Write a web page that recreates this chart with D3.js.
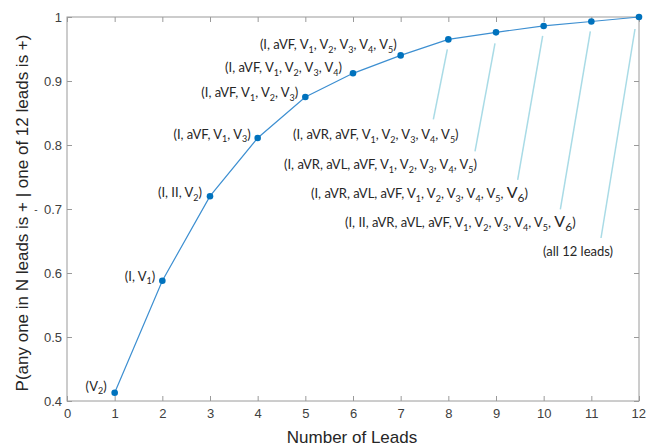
<!DOCTYPE html>
<html>
<head>
<meta charset="utf-8">
<script src="https://cdn.jsdelivr.net/npm/d3@7"></script>
<style>
  html, body { margin: 0; padding: 0; background: #fff; }
  svg { display: block; }
  .tick-label { font-family: "Liberation Sans", Arial, sans-serif; font-size: 13px; fill: #404040; }
  .axis-title { font-family: "Liberation Sans", Arial, sans-serif; font-size: 17px; fill: #262626; }
  .ann { font-family: Lato, "Open Sans", sans-serif; font-size: 13px; fill: #262626; }
</style>
</head>
<body>
<div id="chart"></div>
<script>
// number of leads -> probability
const leadCounts = [1, 2, 3, 4, 5, 6, 7, 8, 9, 10, 11, 12];
const probValues = [0.413, 0.588, 0.72, 0.811, 0.875, 0.912, 0.94, 0.965, 0.976, 0.986, 0.993, 1.0];

// lead sets for each point
const leadSets = [
    ["V2"],
    ["I", "V1"],
    ["I", "II", "V2"],
    ["I", "aVF", "V1", "V3"],
    ["I", "aVF", "V1", "V2", "V3"],
    ["I", "aVF", "V1", "V2", "V3", "V4"],
    ["I", "aVF", "V1", "V2", "V3", "V4", "V5"],
    ["I", "aVR", "aVF", "V1", "V2", "V3", "V4", "V5"],
    ["I", "aVR", "aVL", "aVF", "V1", "V2", "V3", "V4", "V5"],
    ["I", "aVR", "aVL", "aVF", "V1", "V2", "V3", "V4", "V5", "V6"],
    ["I", "II", "aVR", "aVL", "aVF", "V1", "V2", "V3", "V4", "V5", "V6"],
    ["all 12 leads"]
];

const xTicks = [0, 1, 2, 3, 4, 5, 6, 7, 8, 9, 10, 11, 12];
const yTicks = [0.4, 0.5, 0.6, 0.7, 0.8, 0.9, 1];

// annotation layout (pixel offsets from the point; leaders for the crowded ones)
const annLayout = [
    { side: "left", dx: -8, dy: -6 },
    { side: "left", dx: -7, dy: -4 },
    { side: "left", dx: -8, dy: -3 },
    { side: "left", dx: -7, dy: -3 },
    { side: "left", dx: -7, dy: -4 },
    { side: "left", dx: -11, dy: -5 },
    { side: "left", dx: -4, dy: -10 },
    { side: "below", tx: 293, ty: 135, l1: [-1, 10], l2: [-15, 80] },
    { side: "below", tx: 284, ty: 165, l1: [-1, 11], l2: [-21, 119] },
    { side: "below", tx: 311, ty: 194, l1: [-1, 10], l2: [-26, 154] },
    { side: "below", tx: 345, ty: 223, l1: [-1, 10], l2: [-31, 188] },
    { side: "below", tx: 543, ty: 252, l1: [-4, 12], l2: [-38, 221] }
];

const W = 646, H = 447;
const margin = { top: 17, right: 7, bottom: 46, left: 67 };
const innerW = W - margin.left - margin.right;
const innerH = H - margin.top - margin.bottom;

const svg = d3.select("#chart").append("svg").attr("width", W).attr("height", H);
const g = svg.append("g").attr("transform", `translate(${margin.left},${margin.top})`);

const x = d3.scaleLinear().domain([0, 12]).range([0, innerW]);
const y = d3.scaleLinear().domain([0.4, 1]).range([innerH, 0]);

const axisColor = "#9a9a9a";
const tickLen = 5;

// box
g.append("rect")
    .attr("x", 0).attr("y", 0).attr("width", innerW).attr("height", innerH)
    .attr("fill", "none").attr("stroke", axisColor).attr("stroke-width", 1);

// inward ticks, MATLAB style
const xAxisB = d3.axisBottom(x).tickValues(xTicks).tickSize(-tickLen).tickPadding(8).tickFormat(d3.format("d"));
const xAxisT = d3.axisTop(x).tickValues(xTicks).tickSize(-tickLen).tickFormat("");
const yAxisL = d3.axisLeft(y).tickValues(yTicks).tickSize(-tickLen).tickPadding(5).tickFormat(d => d === 1 ? "1" : d3.format(".1f")(d));
const yAxisR = d3.axisRight(y).tickValues(yTicks).tickSize(-tickLen).tickFormat("");

const axB = g.append("g").attr("transform", `translate(0,${innerH})`).call(xAxisB);
const axT = g.append("g").call(xAxisT);
const axL = g.append("g").call(yAxisL);
const axR = g.append("g").attr("transform", `translate(${innerW},0)`).call(yAxisR);

[axB, axT, axL, axR].forEach(a => {
    a.select(".domain").remove();
    a.selectAll(".tick line").attr("stroke", axisColor);
    a.selectAll(".tick text").attr("class", "tick-label").attr("fill", null);
});
// last x label sits at the window edge, as in the original
axB.selectAll(".tick text").filter(d => d === 12).attr("text-anchor", "end").attr("dx", "6.5");

// axis titles
svg.append("text").attr("class", "axis-title")
    .attr("x", margin.left + innerW / 2 - 1).attr("y", H - 4)
    .attr("text-anchor", "middle")
    .text("Number of Leads");

svg.append("text").attr("class", "axis-title")
    .attr("transform", `translate(28,${margin.top + innerH / 2 + 4}) rotate(-90)`)
    .attr("text-anchor", "middle")
    .text("P(any one in N leads is + | one of 12 leads is +)");

// stray mark next to 0.7 in the original
svg.append("text").attr("class", "tick-label")
    .attr("x", 36).attr("y", margin.top + y(0.7) + 4)
    .attr("text-anchor", "middle").style("font-size", "10px")
    .text("-");

const pts = leadCounts.map((n, i) => ({ n, p: probValues[i], leads: leadSets[i], lay: annLayout[i] }));

// leader lines
g.selectAll(".leader")
    .data(pts.filter(d => d.lay.side === "below"))
    .join("line")
    .attr("class", "leader")
    .attr("x1", d => x(d.n) + d.lay.l1[0]).attr("y1", d => y(d.p) + d.lay.l1[1])
    .attr("x2", d => x(d.n) + d.lay.l2[0]).attr("y2", d => y(d.p) + d.lay.l2[1])
    .attr("stroke", "#a9dbe6").attr("stroke-width", 1.5);

// line + markers
const lineColor = "#0072BD";
g.append("path")
    .datum(pts)
    .attr("fill", "none")
    .attr("stroke", "#3d8fd1")
    .attr("stroke-width", 1.2)
    .attr("d", d3.line().x(d => x(d.n)).y(d => y(d.p)));

g.selectAll(".dot")
    .data(pts)
    .join("circle")
    .attr("class", "dot")
    .attr("cx", d => x(d.n)).attr("cy", d => y(d.p))
    .attr("r", 3.3)
    .attr("fill", lineColor);

// annotation text with subscripts
function fillLabel(textSel, leads) {
    let pending = "(";
    let shift = 0;
    leads.forEach((L, i) => {
        const m = /^V(\d)$/.exec(L);
        const sep = i < leads.length - 1 ? ", " : "";
        if (m) {
            const big = L === "V6";
            textSel.append("tspan").attr("dy", shift).text(pending);
            textSel.append("tspan").text("V").style("font-size", big ? "16px" : null);
            textSel.append("tspan").text(m[1])
                .attr("dy", 3.5)
                .style("font-size", big ? "12px" : "9px");
            shift = -3.5;
            pending = sep;
        } else {
            pending += L + sep;
        }
    });
    textSel.append("tspan").attr("dy", shift).text(pending + ")");
}

pts.forEach(d => {
    const t = g.append("text").attr("class", "ann");
    if (d.lay.side === "left") {
        t.attr("x", x(d.n) + d.lay.dx).attr("y", y(d.p) + d.lay.dy + 4).attr("text-anchor", "end");
    } else {
        t.attr("x", d.lay.tx - margin.left).attr("y", d.lay.ty - margin.top + 4).attr("text-anchor", "start");
    }
    fillLabel(t, d.leads);
});
</script>
</body>
</html>
